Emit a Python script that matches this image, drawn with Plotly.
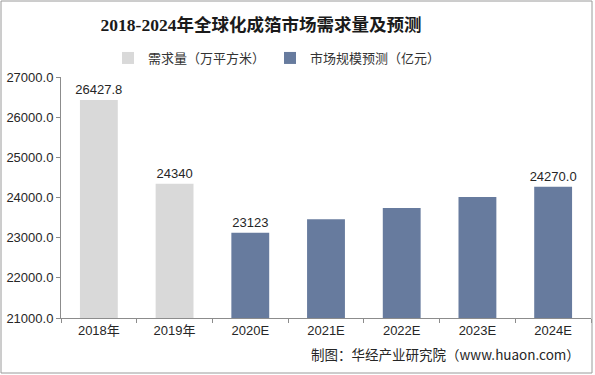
import plotly.graph_objects as go

categories = ["2018年", "2019年", "2020E", "2021E", "2022E", "2023E", "2024E"]
demand_x = ["2018年", "2019年"]
demand_vals = [26427.8, 24340]
demand_labels = ["26427.8", "24340"]
forecast_x = ["2020E", "2021E", "2022E", "2023E", "2024E"]
forecast_vals = [23123, 23460, 23740, 24010, 24270.0]
forecast_labels = ["23123", "", "", "", "24270.0"]
ytick_vals = [21000, 22000, 23000, 24000, 25000, 26000, 27000]
ytick_text = ["21000.0", "22000.0", "23000.0", "24000.0", "25000.0", "26000.0", "27000.0"]

L, R, T, B = 61, 4, 77, 57
PW = 595 - L - R
PH = 375 - T - B

def px_x(p):
    return (p - L) / PW

def px_y(p):
    return (T + PH - p) / PH

fig = go.Figure()
fig.add_trace(go.Bar(
    x=demand_x, y=demand_vals, name="需求量（万平方米）",
    marker=dict(color="#d9d9d9", line=dict(width=0)),
    text=demand_labels, textposition="outside", constraintext="none",
    textfont=dict(size=13, color="#262626", family="Liberation Sans, Arial"),
    cliponaxis=False,
))
fig.add_trace(go.Bar(
    x=forecast_x, y=forecast_vals, name="市场规模预测（亿元）",
    marker=dict(color="#677b9e", line=dict(width=0)),
    text=forecast_labels, textposition="outside", constraintext="none",
    textfont=dict(size=13, color="#262626", family="Liberation Sans, Arial"),
    cliponaxis=False,
))

fig.update_layout(
    width=595, height=375,
    margin=dict(l=L, r=R, t=T, b=B, autoexpand=False),
    paper_bgcolor="white", plot_bgcolor="white",
    barmode="overlay", bargap=0.5,
    font=dict(family="Liberation Sans, Noto Sans CJK SC, Arial", size=12, color="#404040"),
    title=dict(
        text="<b>2018-2024年全球化成箔市场需求量及预测</b>",
        x=261 / 595, xanchor="center", y=1 - 25/375, yanchor="middle",
        font=dict(family="Liberation Serif, Noto Sans CJK SC", size=17.5, color="#1a1a1a"),
    ),
    legend=dict(
        orientation="h", x=px_x(108), xanchor="left", y=px_y(58), yanchor="middle",
        font=dict(size=13, color="#333333", family="Noto Sans CJK SC"),
        traceorder="normal", itemwidth=30,
    ),
    showlegend=True,
)
fig.update_xaxes(
    type="category", categoryorder="array", categoryarray=categories,
    showline=True, linecolor="#8c8c8c", linewidth=1, automargin=False,
    ticks="outside", tickson="boundaries", ticklen=4, tickcolor="#8c8c8c",
    tickfont=dict(size=13, color="#262626", family="Liberation Sans, Noto Sans CJK SC"),
    showgrid=False,
)
fig.update_yaxes(
    range=[21000, 27000], tickvals=ytick_vals, ticktext=ytick_text,
    showline=True, linecolor="#8c8c8c", linewidth=1, automargin=False,
    ticks="outside", ticklen=4, tickcolor="#8c8c8c",
    tickfont=dict(size=13, color="#262626", family="Liberation Sans, Arial"),
    showgrid=False, zeroline=False,
)

fig.add_annotation(
    text="制图：华经产业研究院（www.huaon.com）",
    xref="paper", yref="paper", x=px_x(582), xanchor="right",
    y=px_y(354), yanchor="middle",
    showarrow=False, font=dict(size=13.5, color="#262626", family="Noto Sans CJK SC"),
)
fig.add_shape(
    type="rect", xref="paper", yref="paper",
    x0=px_x(1), x1=px_x(592), y0=px_y(373), y1=px_y(1),
    line=dict(color="#9a9a9a", width=1), fillcolor="rgba(0,0,0,0)",
)

fig.write_html(
    "out.html",
    config={"displayModeBar": False},
    post_script="document.body.style.margin='0';document.body.style.overflow='hidden';",
)
